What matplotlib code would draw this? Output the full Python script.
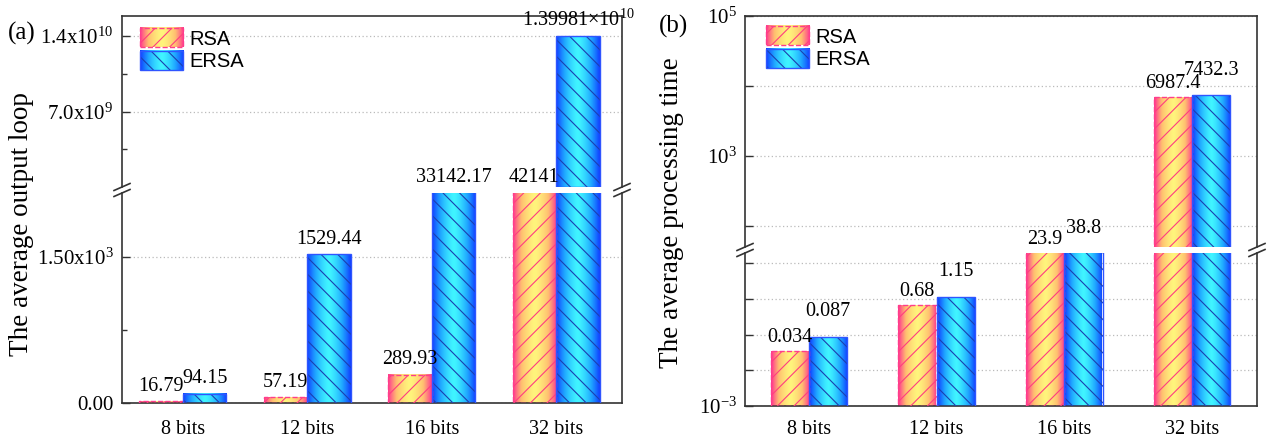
import numpy as np
import matplotlib
matplotlib.use("Agg")
import matplotlib.pyplot as plt
import matplotlib.patches as mpatches
from matplotlib.colors import LinearSegmentedColormap
from matplotlib.legend_handler import HandlerBase
from matplotlib.image import BboxImage
from matplotlib.transforms import Bbox, TransformedBbox
from matplotlib.lines import Line2D

# ---------------- data ----------------
categories = ['8 bits', '12 bits', '16 bits', '32 bits']
series_names = ['RSA', 'ERSA']

loop_rsa = [16.79, 57.19, 289.93, 42141]
loop_ersa = [94.15, 1529.44, 33142.17, 1.39981e10]
loop_rsa_labels = ['16.79', '57.19', '289.93', '42141']
loop_ersa_labels = ['94.15', '1529.44', '33142.17', '1.39981$\\times$10$^{10}$']

time_rsa = [0.034, 0.68, 23.9, 6987.4]
time_ersa = [0.087, 1.15, 38.8, 7432.3]
time_rsa_labels = ['0.034', '0.68', '23.9', '6987.4']
time_ersa_labels = ['0.087', '1.15', '38.8', '7432.3']

a_low_ticks = [0, 1500]
a_low_ticklabels = ['0.00', '1.50x10$^{3}$']
a_high_ticks = [7.0e9, 1.4e10]
a_high_ticklabels = ['7.0x10$^{9}$', '1.4x10$^{10}$']

b_low_ticks = [1e-3, 1e-2, 1e-1, 1e0, 1e1]
b_low_ticklabels = ['10$^{-3}$', '', '', '', '']
b_high_ticks = [1e2, 1e3, 1e4, 1e5]
b_high_ticklabels = ['', '10$^{3}$', '', '10$^{5}$']

# ---------------- style ----------------
plt.rcParams['font.family'] = ['Liberation Serif', 'DejaVu Serif']
plt.rcParams['mathtext.fontset'] = 'custom'
plt.rcParams['mathtext.rm'] = 'Liberation Serif'
plt.rcParams['mathtext.it'] = 'Liberation Serif:italic'
plt.rcParams['mathtext.bf'] = 'Liberation Serif:bold'
plt.rcParams['hatch.linewidth'] = 0.8

W, H = 1271, 446
fig = plt.figure(figsize=(W / 100, H / 100), dpi=100)

def rect(x0, y0, x1, y1):
    return [x0 / W, 1 - y1 / H, (x1 - x0) / W, (y1 - y0) / H]

rsa_cmap = LinearSegmentedColormap.from_list('rsa', ['#FFF47C', '#FFC070', '#FF3A8E'])
ersa_cmap = LinearSegmentedColormap.from_list('ersa', ['#40F4FF', '#20A8FF', '#1040FF'])
grad = (np.abs(np.linspace(-1, 1, 64)) ** 1.4).reshape(1, -1)

STY = {
    'RSA': dict(cmap=rsa_cmap, hatch='//', hcolor='#FF3D80', ecolor='#FF3D8C', ls='--'),
    'ERSA': dict(cmap=ersa_cmap, hatch='\\\\', hcolor='#1B3FB0', ecolor='#2F55FF', ls='-'),
}

SPINE = '#333333'
GRID = '#BBBBBB'


def style_axes(ax, part):
    for s in ax.spines.values():
        s.set_color(SPINE)
        s.set_linewidth(1.2)
    if part == 'upper':
        ax.spines['bottom'].set_visible(False)
        ax.tick_params(axis='x', bottom=False, labelbottom=False)
    else:
        ax.spines['top'].set_visible(False)
    ax.tick_params(axis='y', which='both', direction='in', right=False, colors=SPINE,
                   labelcolor='black', labelsize=15)
    ax.tick_params(axis='y', which='major', length=6, width=1.0)
    ax.tick_params(axis='y', which='minor', length=3.5, width=1.0)
    ax.set_axisbelow(True)
    ax.yaxis.grid(True, which='major', color=GRID, linestyle=(0, (1, 2)), linewidth=0.9)
    ax.xaxis.grid(False)


def draw_bars(ax, x, vals, width, name, bottom):
    st = STY[name]
    y0, y1 = ax.get_ylim()
    # bars that end below this segment of the broken axis are not shown in it
    shown = np.array([v if v > y0 else np.nan for v in vals], dtype=float)
    hb = ax.bar(x, shown, width, bottom=bottom, facecolor='none', edgecolor=st['hcolor'],
                hatch=st['hatch'], linewidth=0, zorder=3)
    ax.bar(x, shown, width, bottom=bottom, fill=False, edgecolor=st['ecolor'],
           linewidth=1.0, linestyle=st['ls'], zorder=4)
    for p in hb.patches:
        h = p.get_height()
        if not np.isfinite(h):
            continue
        px, pw = p.get_x(), p.get_width()
        top = min(p.get_y() + h, y1)
        ax.imshow(grad, extent=[px, px + pw, y0, top], aspect='auto',
                  cmap=st['cmap'], interpolation='bilinear', zorder=2)
    ax.set_ylim(y0, y1)


def break_marks(x_px_list, g1, g2):
    for xp in x_px_list:
        for yp in (g1, g2):
            xs = [(xp - 8) / W, (xp + 8) / W]
            ys = [1 - (yp + 3.5) / H, 1 - (yp - 3.5) / H]
            fig.add_artist(Line2D(xs, ys, color=SPINE, lw=1.2))


class GradHandler(HandlerBase):
    def __init__(self, st):
        super().__init__()
        self.st = st

    def create_artists(self, legend, orig_handle, xdescent, ydescent, width, height,
                       fontsize, trans):
        x0, y0 = -xdescent, -ydescent
        bb = TransformedBbox(Bbox.from_bounds(x0, y0, width, height), trans)
        img = BboxImage(bb, cmap=self.st['cmap'], interpolation='bilinear')
        img.set_data(grad)
        r1 = mpatches.Rectangle((x0, y0), width, height, facecolor='none',
                                edgecolor=self.st['hcolor'], hatch=self.st['hatch'], lw=0)
        r2 = mpatches.Rectangle((x0, y0), width, height, fill=False,
                                edgecolor=self.st['ecolor'], lw=1.0, ls=self.st['ls'])
        r1.set_transform(trans)
        r2.set_transform(trans)
        return [img, r1, r2]


def add_legend(ax, anchor_px):
    handles = [mpatches.Patch(label=n) for n in series_names]
    hmap = {handles[i]: GradHandler(STY[n]) for i, n in enumerate(series_names)}
    ax.legend(handles=handles, handler_map=hmap, loc='upper left',
              bbox_to_anchor=(anchor_px[0] / W, 1 - anchor_px[1] / H),
              bbox_transform=fig.transFigure, frameon=False,
              prop={'family': 'Liberation Sans', 'size': 14.5},
              handlelength=2.15, handleheight=1.1, labelspacing=0.12,
              handletextpad=0.3, borderpad=0, borderaxespad=0)


def annotate(ax, xi, v, lab, ytop, offset):
    yv = min(v, ytop)
    ax.annotate(lab, (xi, yv), xytext=(0, offset), textcoords='offset points',
                ha='center', va='bottom', fontsize=14.5, annotation_clip=False,
                zorder=6)


# ================= panel (a) =================
x = np.arange(len(categories))
wa = 0.35
ax_a_hi = fig.add_axes(rect(122, 16, 622, 187))
ax_a_lo = fig.add_axes(rect(122, 193, 622, 403))
ax_a_hi.set_ylim(5e4, 1.587e10)
ax_a_lo.set_ylim(0, 2157)
for ax in (ax_a_hi, ax_a_lo):
    ax.set_xlim(-0.49, 3.53)
    draw_bars(ax, x - wa / 2, loop_rsa, wa, 'RSA', 0)
    draw_bars(ax, x + wa / 2, loop_ersa, wa, 'ERSA', 0)
style_axes(ax_a_hi, 'upper')
style_axes(ax_a_lo, 'lower')
ax_a_hi.set_yticks(a_high_ticks, a_high_ticklabels)
ax_a_hi.set_yticks([3.5e9, 1.05e10], minor=True)
ax_a_lo.set_yticks(a_low_ticks, a_low_ticklabels)
ax_a_lo.set_yticks([750], minor=True)
ax_a_lo.set_xticks(x, categories)
ax_a_lo.tick_params(axis='x', length=0, pad=12, labelsize=14.5)
ax_a_hi.tick_params(axis='y', pad=6)
ax_a_lo.tick_params(axis='y', pad=6)

ylo_top = ax_a_lo.get_ylim()[1]
yhi_bot = ax_a_hi.get_ylim()[0]
for xs, vals, labs in ((x - wa / 2, loop_rsa, loop_rsa_labels),
                       (x + wa / 2, loop_ersa, loop_ersa_labels)):
    for xi, v, lab in zip(xs, vals, labs):
        if v > yhi_bot * 10:
            annotate(ax_a_hi, xi, v, lab, ax_a_hi.get_ylim()[1], 4)
        else:
            annotate(ax_a_lo, xi, v, lab, ylo_top, 4)

break_marks([122, 622], 187, 193)
add_legend(ax_a_hi, (140, 28))
fig.text(22 / W, 1 - 224 / H, 'The average output loop', rotation=90, ha='center',
         va='center', fontsize=19.5)
fig.text(22 / W, 1 - 33 / H, '(a)', ha='center', va='center', fontsize=18)

# ================= panel (b) =================
wb = 0.30
ax_b_hi = fig.add_axes(rect(745, 16, 1257, 247))
ax_b_lo = fig.add_axes(rect(745, 253, 1257, 406))
for ax in (ax_b_hi, ax_b_lo):
    ax.set_yscale('log')
ax_b_hi.set_ylim(50, 1e5)
ax_b_lo.set_ylim(1e-3, 19.3)
for ax in (ax_b_hi, ax_b_lo):
    ax.set_xlim(-0.50, 3.51)
    draw_bars(ax, x - wb / 2, time_rsa, wb, 'RSA', 1e-3)
    draw_bars(ax, x + wb / 2, time_ersa, wb, 'ERSA', 1e-3)
style_axes(ax_b_hi, 'upper')
style_axes(ax_b_lo, 'lower')
ax_b_hi.set_yticks(b_high_ticks, b_high_ticklabels)
ax_b_lo.set_yticks(b_low_ticks, b_low_ticklabels)
ax_b_hi.yaxis.set_minor_locator(plt.NullLocator())
ax_b_lo.yaxis.set_minor_locator(plt.NullLocator())
ax_b_lo.set_xticks(x, categories)
ax_b_lo.tick_params(axis='x', length=0, pad=10, labelsize=14.5)
ax_b_hi.tick_params(axis='y', pad=6)
ax_b_lo.tick_params(axis='y', pad=6)

blo_top = ax_b_lo.get_ylim()[1]
bhi_bot = ax_b_hi.get_ylim()[0]
for xs, vals, labs, off in ((x - wb / 2, time_rsa, time_rsa_labels, 3),
                            (x + wb / 2, time_ersa, time_ersa_labels, 11)):
    for xi, v, lab in zip(xs, vals, labs):
        if v > bhi_bot:
            annotate(ax_b_hi, xi, v, lab, 1e5, off)
        else:
            annotate(ax_b_lo, xi, v, lab, blo_top, off)

break_marks([745, 1257], 247, 253)
add_legend(ax_b_hi, (766, 26))
fig.text(672 / W, 1 - 213 / H, 'The average processing time', rotation=90, ha='center',
         va='center', fontsize=19.5)
fig.text(673 / W, 1 - 26 / H, '(b)', ha='center', va='center', fontsize=18)

fig.savefig('out.png', dpi=100)
